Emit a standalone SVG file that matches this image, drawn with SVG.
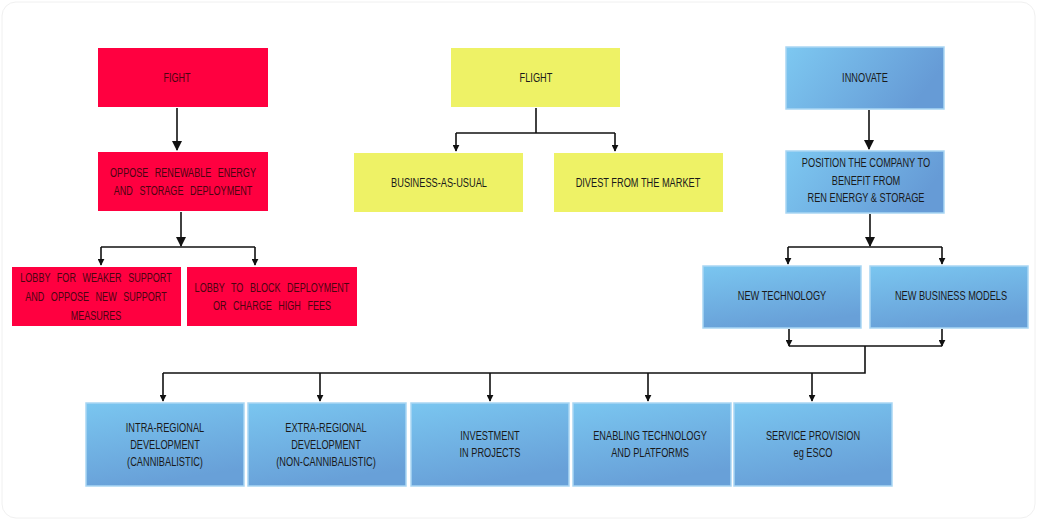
<svg xmlns="http://www.w3.org/2000/svg" width="1037" height="520" viewBox="0 0 1037 520">
<defs>
<linearGradient id="blue" x1="0" y1="0" x2="0.3" y2="1">
<stop offset="0" stop-color="#7ac6f0"/>
<stop offset="1" stop-color="#68a0d8"/>
</linearGradient>
<linearGradient id="blueH" x1="0" y1="0" x2="1" y2="0.3">
<stop offset="0" stop-color="#7dc8f1"/>
<stop offset="1" stop-color="#669bd6"/>
</linearGradient>
<marker id="ah" viewBox="0 0 10 10" refX="9" refY="5" markerWidth="7" markerHeight="7" markerUnits="userSpaceOnUse" orient="auto">
<path d="M0,0 L10,5 L0,10 z" fill="#111"/>
</marker>
<marker id="ahL" viewBox="0 0 10 10" refX="9" refY="5" markerWidth="11" markerHeight="10" markerUnits="userSpaceOnUse" orient="auto">
<path d="M0,0 L10,5 L0,10 z" fill="#111"/>
</marker>
</defs>
<style>
.red{fill:#ff0040;}
.yel{fill:#eef266;}
.blu{fill:url(#blue);stroke:#a9d6f3;stroke-width:1.5;}
.bluH{fill:url(#blueH);stroke:#a9d6f3;stroke-width:1.5;}
text{font-family:"Liberation Sans",Arial,sans-serif;font-size:13px;text-anchor:middle;fill:#1a1a1a;}
.rt{fill:#4a0410;word-spacing:6px;font-size:13.5px;}
.c line,.c polyline{stroke:#111;stroke-width:1.6;fill:none;}
</style>
<rect x="2" y="2" width="1033" height="516" rx="14" fill="#fff" stroke="#f0f0f0"/>
<g id="fight"><rect class="red" x="98" y="48" width="170" height="59"/><text class="rt" transform="translate(177,82) scale(.67,1)">FIGHT</text></g>
<g id="oppose"><rect class="red" x="98" y="152" width="170" height="59"/><text class="rt" transform="translate(183,177) scale(.67,1)">OPPOSE RENEWABLE ENERGY</text><text class="rt" transform="translate(183,195) scale(.67,1)">AND STORAGE DEPLOYMENT</text></g>
<g id="lobby1"><rect class="red" x="12" y="267" width="169" height="59"/><text class="rt" transform="translate(96,282) scale(.67,1)">LOBBY FOR WEAKER SUPPORT</text><text class="rt" transform="translate(96,301) scale(.67,1)">AND OPPOSE NEW SUPPORT</text><text class="rt" transform="translate(96,320) scale(.67,1)">MEASURES</text></g>
<g id="lobby2"><rect class="red" x="187" y="267" width="170" height="59"/><text class="rt" transform="translate(272,292) scale(.67,1)">LOBBY TO BLOCK DEPLOYMENT</text><text class="rt" transform="translate(272,310) scale(.67,1)">OR CHARGE HIGH FEES</text></g>
<g id="flight"><rect class="yel" x="451" y="48" width="169" height="59"/><text transform="translate(536,82) scale(.71,1)">FLIGHT</text></g>
<g id="bau"><rect class="yel" x="354" y="153" width="169" height="59"/><text transform="translate(439,187) scale(.71,1)">BUSINESS-AS-USUAL</text></g>
<g id="divest"><rect class="yel" x="554" y="153" width="169" height="59"/><text transform="translate(638,187) scale(.71,1)">DIVEST FROM THE MARKET</text></g>
<g id="innovate"><rect class="bluH" x="786" y="47" width="158" height="62"/><text transform="translate(865,82) scale(.71,1)">INNOVATE</text></g>
<g id="position"><rect class="bluH" x="786" y="151" width="158" height="62"/><text transform="translate(866,167) scale(.71,1)">POSITION THE COMPANY TO</text><text transform="translate(866,185) scale(.71,1)">BENEFIT FROM</text><text transform="translate(866,202) scale(.71,1)">REN ENERGY &amp; STORAGE</text></g>
<g id="newtech"><rect class="blu" x="703" y="266" width="158" height="62"/><text transform="translate(782,300) scale(.71,1)">NEW TECHNOLOGY</text></g>
<g id="newbiz"><rect class="blu" x="870" y="266" width="158" height="62"/><text transform="translate(951,300) scale(.71,1)">NEW BUSINESS MODELS</text></g>
<g id="intra"><rect class="blu" x="86" y="403" width="158" height="83"/><text transform="translate(165,432) scale(.71,1)">INTRA-REGIONAL</text><text transform="translate(165,449) scale(.71,1)">DEVELOPMENT</text><text transform="translate(165,466) scale(.71,1)">(CANNIBALISTIC)</text></g>
<g id="extra"><rect class="blu" x="248" y="403" width="158" height="83"/><text transform="translate(326,432) scale(.71,1)">EXTRA-REGIONAL</text><text transform="translate(326,449) scale(.71,1)">DEVELOPMENT</text><text transform="translate(326,466) scale(.71,1)">(NON-CANNIBALISTIC)</text></g>
<g id="invest"><rect class="blu" x="411" y="403" width="158" height="83"/><text transform="translate(490,440) scale(.71,1)">INVESTMENT</text><text transform="translate(490,457) scale(.71,1)">IN PROJECTS</text></g>
<g id="enabling"><rect class="blu" x="573" y="403" width="158" height="83"/><text transform="translate(650,440) scale(.71,1)">ENABLING TECHNOLOGY</text><text transform="translate(650,457) scale(.71,1)">AND PLATFORMS</text></g>
<g id="service"><rect class="blu" x="734" y="403" width="158" height="83"/><text transform="translate(813,440) scale(.71,1)">SERVICE PROVISION</text><text transform="translate(813,457) scale(.71,1)">eg ESCO</text></g>
<g id="connectors" class="c">
<line x1="177" y1="108" x2="177" y2="150" marker-end="url(#ahL)"/>
<line x1="181" y1="212" x2="181" y2="246" marker-end="url(#ahL)"/>
<polyline points="101,247 255,247"/>
<line x1="101" y1="247" x2="101" y2="265" marker-end="url(#ah)"/>
<line x1="255" y1="247" x2="255" y2="265" marker-end="url(#ah)"/>
<line x1="536" y1="108" x2="536" y2="133"/>
<polyline points="456,133 615,133"/>
<line x1="456" y1="133" x2="456" y2="151" marker-end="url(#ah)"/>
<line x1="615" y1="133" x2="615" y2="151" marker-end="url(#ah)"/>
<line x1="869" y1="110" x2="869" y2="149" marker-end="url(#ahL)"/>
<line x1="870" y1="214" x2="870" y2="246" marker-end="url(#ahL)"/>
<polyline points="788,247 942,247"/>
<line x1="788" y1="247" x2="788" y2="264" marker-end="url(#ah)"/>
<line x1="942" y1="247" x2="942" y2="264" marker-end="url(#ah)"/>
<line x1="789" y1="329" x2="789" y2="346" marker-end="url(#ah)"/>
<line x1="942" y1="329" x2="942" y2="346" marker-end="url(#ah)"/>
<line x1="789" y1="346" x2="942" y2="346"/>
<polyline points="865,346 865,373 163,373"/>
<line x1="163" y1="373" x2="163" y2="401" marker-end="url(#ah)"/>
<line x1="320" y1="373" x2="320" y2="401" marker-end="url(#ah)"/>
<line x1="490" y1="373" x2="490" y2="401" marker-end="url(#ah)"/>
<line x1="648" y1="373" x2="648" y2="401" marker-end="url(#ah)"/>
<line x1="812" y1="373" x2="812" y2="401" marker-end="url(#ah)"/>
</g>
</svg>
